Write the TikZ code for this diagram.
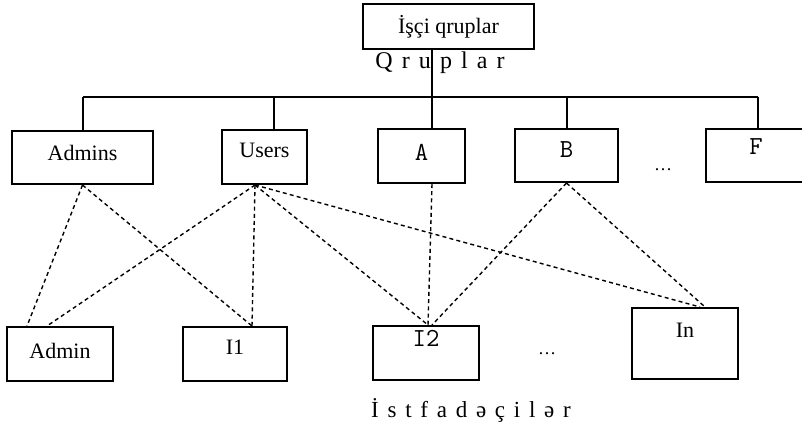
\documentclass[tikz,border=0pt]{standalone}
\usepackage{fontspec}
\setmainfont{Liberation Serif}
\newfontfamily\spacedfont[LetterSpace=38]{Liberation Serif}
\usepackage{tikz}
\usetikzlibrary{positioning, calc}
\tikzset{
  grpbox/.style  = {draw, line width=1pt, inner sep=0pt, minimum width=50pt, minimum height=26.5pt, font=\fontsize{11}{13}\selectfont},
  monobox/.style = {grpbox, font=\ttfamily\fontsize{13}{15}\selectfont},
  lift/.style    = {text depth=#1},
  spaced/.style  = {inner sep=0pt, font=\spacedfont\fontsize{12}{14}\selectfont},
  dotsnode/.style= {inner sep=0pt, font=\fontsize{9}{11}\selectfont},
  bus/.style     = {line width=0.6pt},
  link/.style    = {line width=0.7pt, dash pattern=on 2pt off 1.6pt}
}
\begin{document}
\begin{tikzpicture}[x=0.5pt, y=-0.5pt]
    \clip (0,0) rectangle (802,427);

    % --- Top: working groups ------------------------------------------------
    \node[grpbox, minimum width=85.5pt, minimum height=22.5pt, lift=2pt] (isci) at (448.5,26.5)
      {İşçi qruplar};
    \node[spaced] (qruplar) at (440,63) {Qruplar};

    % --- Group row ----------------------------------------------------------
    \node[grpbox, minimum width=70.5pt, lift=4.5pt] (admins) at (82.5,157.5) {Admins};
    \node[grpbox, minimum width=42.5pt, minimum height=27pt, lift=7pt] (users) at (264.5,157) {Users};
    \node[monobox, minimum width=43.5pt, minimum height=27pt, lift=4pt] (a) at (421.5,156) {A};
    \node[monobox, minimum width=51.5pt, lift=5.5pt] (b) at (566.5,155.5) {B};
    \node[dotsnode] (gdots) at (663,170) {\dots};
    \node[monobox, minimum width=50pt, lift=8.5pt] (f) at (756,155.5) {F};

    % --- User row -----------------------------------------------------------
    \node[grpbox, minimum width=53pt, minimum height=27pt, lift=3pt] (admin) at (60,354) {Admin};
    \node[grpbox, minimum width=52pt, minimum height=27pt, lift=7pt] (i1) at (235,354) {I1};
    \node[monobox, minimum width=53pt, minimum height=27pt, lift=15pt] (i2) at (426,353) {I2};
    \node[dotsnode] (udots) at (547,354) {\dots};
    \node[grpbox, minimum width=53pt, minimum height=35.5pt, lift=13.5pt] (in) at (685,343.5) {In};

    \node[spaced, font=\spacedfont\fontsize{11.5}{13}\selectfont] (istf) at (471,410) {İstfadəçilər};

    % --- Tree lines ---------------------------------------------------------
    \coordinate (jadmins) at (83,97);
    \coordinate (jusers)  at (274,97);
    \coordinate (ja)      at (432,97);
    \coordinate (jb)      at (567,97);
    \coordinate (jf)      at (758,97);
    \draw[bus] (jadmins) -- (jf);
    \draw[bus] (ja |- isci.south) -- (ja |- a.north);
    \draw[bus] (jadmins) -- (jadmins |- admins.north);
    \draw[bus] (jusers)  -- (jusers |- users.north);
    \draw[bus] (jb)      -- (jb |- b.north);
    \draw[bus] (jf)      -- (jf |- f.north);

    % --- Membership links ---------------------------------------------------
    \draw[link] (admins.south) -- ($(admin.north)+(-33,0)$);
    \draw[link] (admins.south) -- ($(i1.north)+(17,0)$);
    \draw[link] ($(users.south)+(-9.5,0)$) -- ($(admin.north)+(-13,0)$);
    \draw[link] ($(users.south)+(-9.5,0)$) -- ($(i1.north)+(17,0)$);
    \draw[link] ($(users.south)+(-9.5,0)$) -- ($(i2.north)+(2,0)$);
    \draw[link] ($(users.south)+(-9.5,0)$) -- ($(in.north)+(15,0)$);
    \draw[link] ($(a.south)+(10.5,0)$) -- ($(i2.north)+(2,0)$);
    \draw[link] (b.south) -- ($(i2.north)+(6,0)$);
    \draw[link] (b.south) -- ($(in.north)+(20,0)$);

\end{tikzpicture}
\end{document}
